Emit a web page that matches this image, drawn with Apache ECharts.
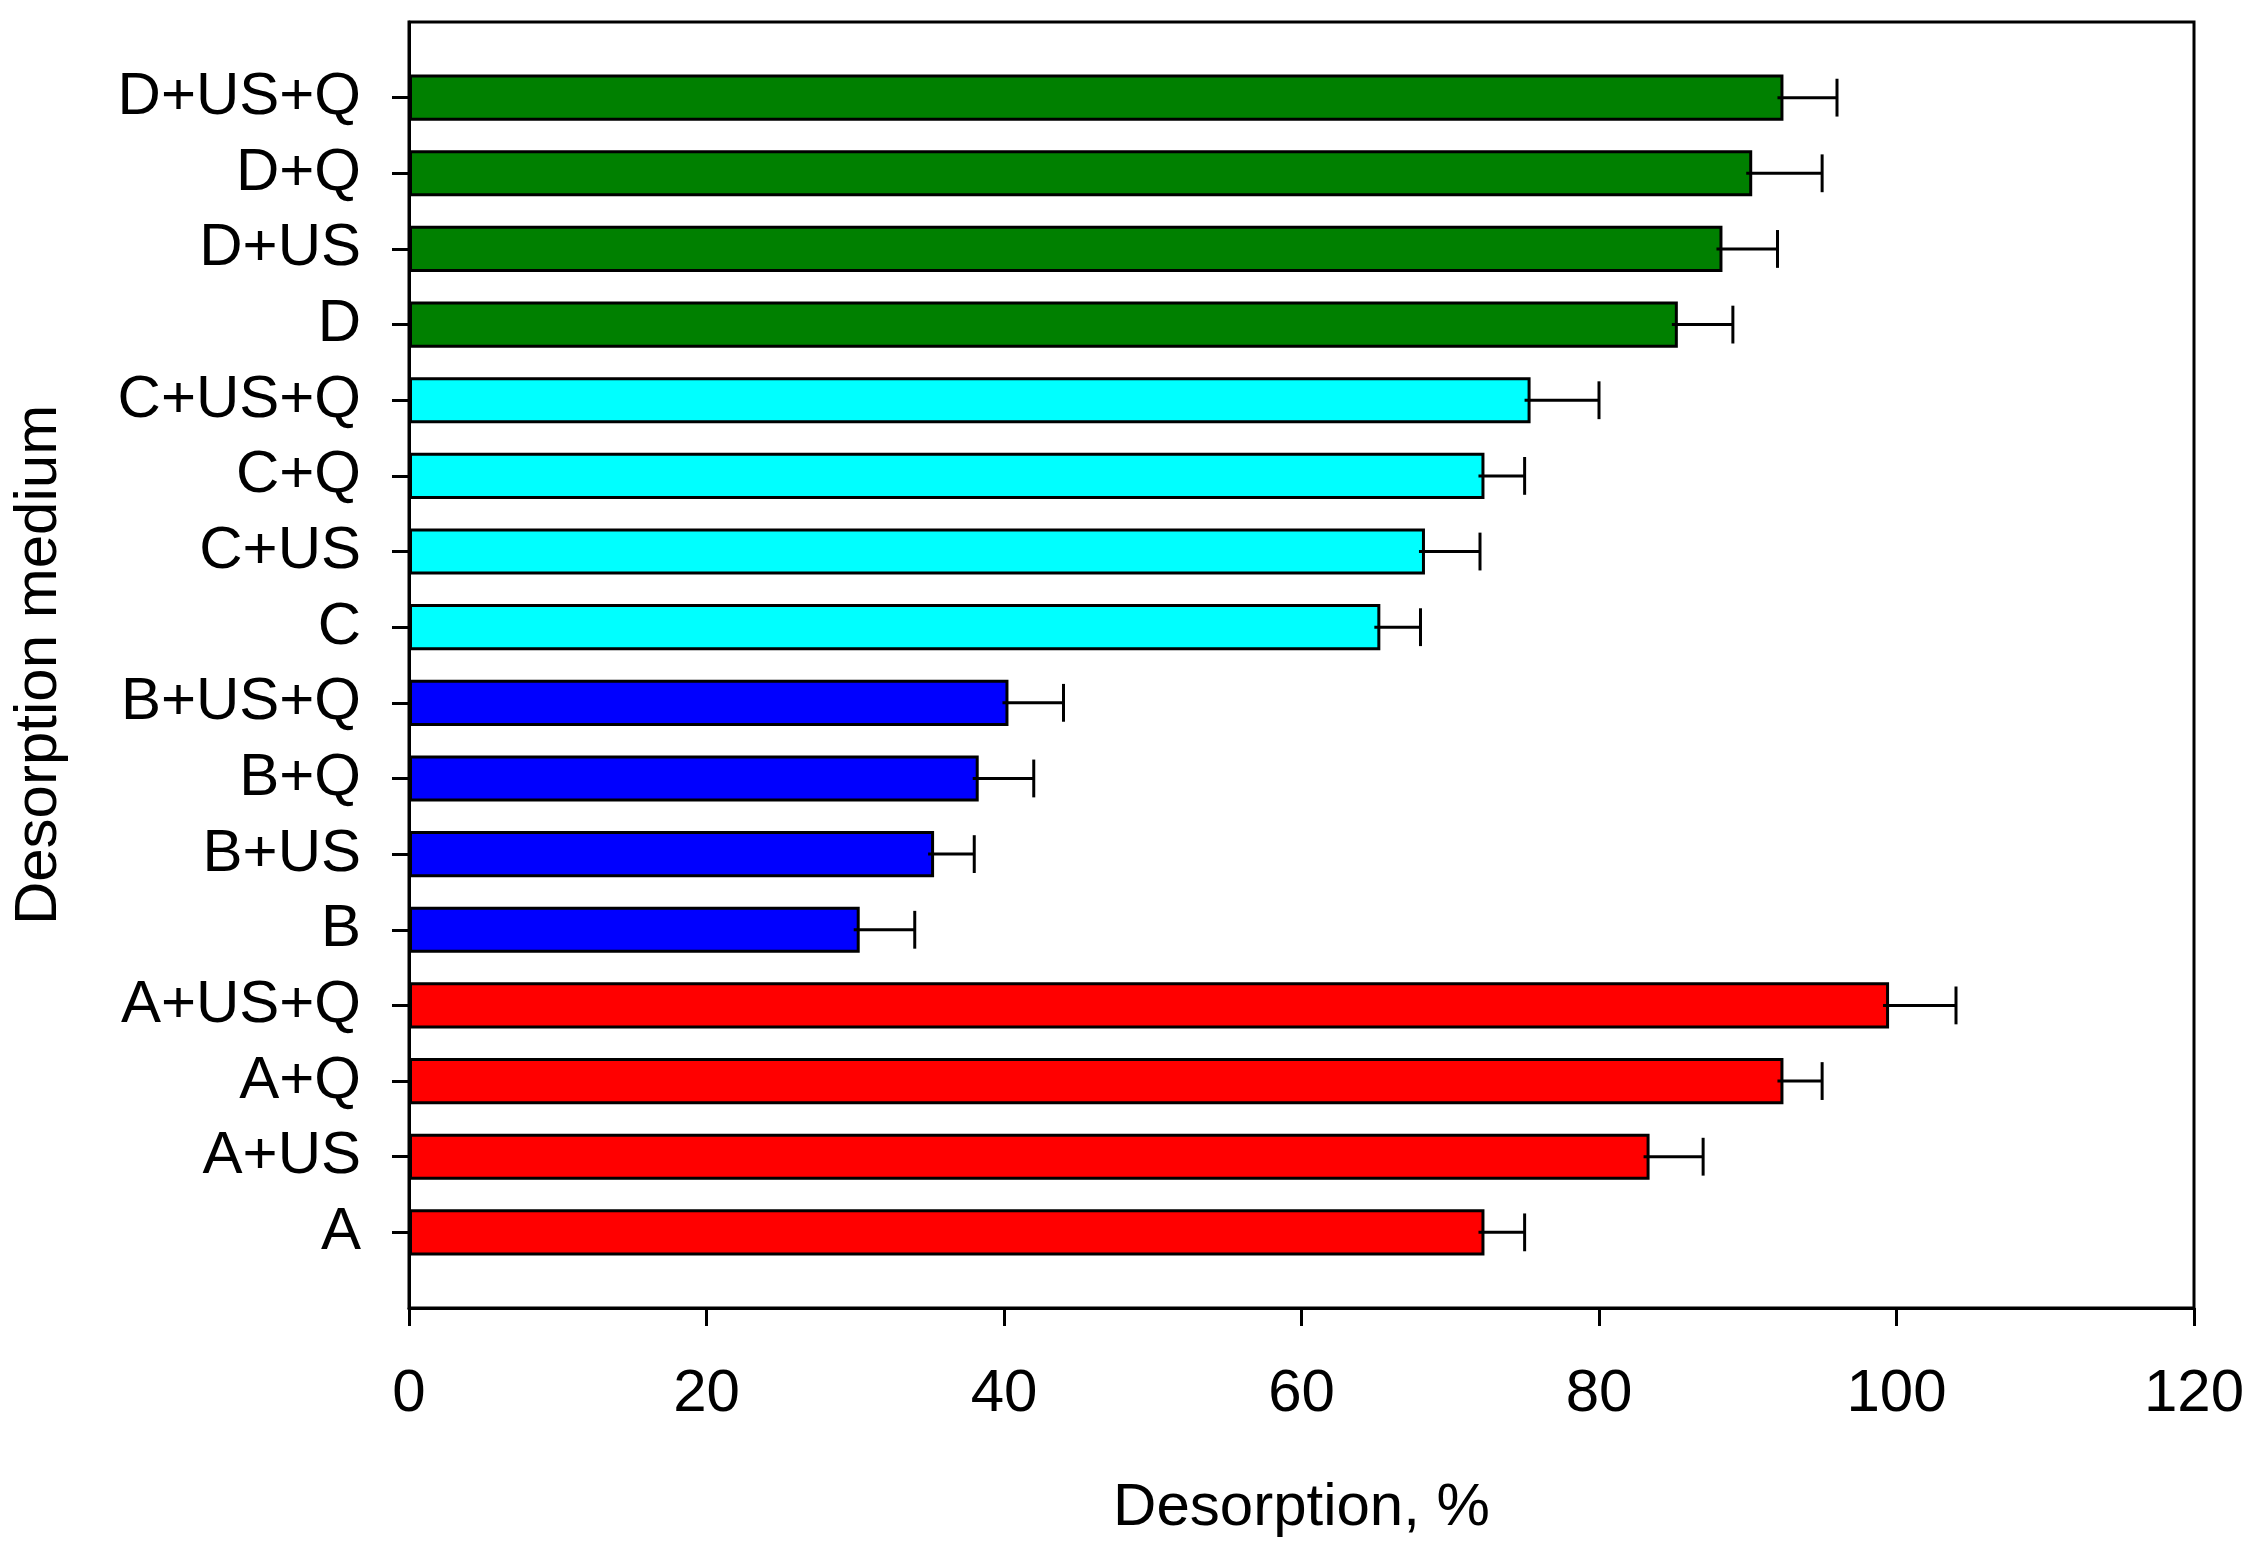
<!DOCTYPE html>
<html>
<head>
<meta charset="utf-8">
<script src="https://cdn.jsdelivr.net/npm/echarts@6/dist/echarts.min.js"></script>
<style>html,body{margin:0;padding:0;background:#fff;}#chart{width:2248px;height:1550px;}</style>
</head>
<body>
<div id="chart"></div>
<script>
const categories = ['A', 'A+US', 'A+Q', 'A+US+Q', 'B', 'B+US', 'B+Q', 'B+US+Q', 'C', 'C+US', 'C+Q', 'C+US+Q', 'D', 'D+US', 'D+Q', 'D+US+Q'];
const desorption = [72.3, 83.4, 92.4, 99.5, 30.3, 35.3, 38.3, 40.3, 65.3, 68.3, 72.3, 75.4, 85.3, 88.3, 90.3, 92.4];
const errors = [2.7, 3.6, 2.6, 4.5, 3.7, 2.7, 3.7, 3.7, 2.7, 3.7, 2.7, 4.6, 3.7, 3.7, 4.7, 3.6];
const groupColors = { A: '#ff0000', B: '#0000ff', C: '#00ffff', D: '#008000' };
const xMin = 0, xMax = 120, xStep = 20;

const FONT = '"Liberation Sans", Arial, sans-serif';
const axisCats = [''].concat(categories, ['']);
const barData = ['-'].concat(desorption.map((v, i) => ({
  value: v,
  itemStyle: { color: groupColors[categories[i][0]] }
})), ['-']);
const errData = desorption.map((v, i) => [v, v + errors[i], i + 1]);

const chart = echarts.init(document.getElementById('chart'));
chart.setOption({
  backgroundColor: '#fff',
  animation: false,
  grid: {
    left: 409, right: 54, top: 22, bottom: 242,
    show: true, borderColor: '#000', borderWidth: 3, backgroundColor: 'transparent'
  },
  xAxis: {
    type: 'value', min: xMin, max: xMax, interval: xStep,
    name: 'Desorption, %', nameLocation: 'middle', nameGap: 170,
    nameTextStyle: { fontFamily: FONT, fontSize: 60, color: '#000' },
    axisLine: { show: true, lineStyle: { color: '#000', width: 3 } },
    axisTick: { show: true, inside: false, length: 18, lineStyle: { color: '#000', width: 3 } },
    axisLabel: { fontFamily: FONT, fontSize: 60, color: '#000', margin: 56 },
    splitLine: { show: false }
  },
  yAxis: {
    type: 'category', data: axisCats, boundaryGap: false,
    name: 'Desorption medium', nameLocation: 'middle', nameGap: 340, nameRotate: 90,
    nameTextStyle: { fontFamily: FONT, fontSize: 60, color: '#000' },
    axisLine: { show: true, lineStyle: { color: '#000', width: 3 } },
    axisTick: { show: true, inside: false, length: 17, interval: (idx) => idx > 0 && idx < axisCats.length - 1, lineStyle: { color: '#000', width: 3 } },
    axisLabel: { fontFamily: FONT, fontSize: 60, color: '#000', margin: 48, interval: 0, padding: [6, 0, 0, 0] },
    splitLine: { show: false }
  },
  series: [
    {
      type: 'bar', data: barData, barWidth: '61%',
      itemStyle: { borderColor: '#000', borderWidth: 3 }
    },
    {
      type: 'custom', data: errData, encode: { x: [0, 1], y: 2 }, z: 5,
      renderItem: function (params, api) {
        const y = api.value(2);
        const p0 = api.coord([api.value(0), y]);
        const p1 = api.coord([api.value(1), y]);
        const h = api.size([0, 1])[1] * 0.25;
        const st = { stroke: '#000', lineWidth: 3 };
        return {
          type: 'group', children: [
            { type: 'line', shape: { x1: p0[0] - 6, y1: p0[1], x2: p1[0], y2: p1[1] }, style: st },
            { type: 'line', shape: { x1: p1[0], y1: p1[1] - h, x2: p1[0], y2: p1[1] + h }, style: st }
          ]
        };
      }
    }
  ]
});
</script>
</body>
</html>
